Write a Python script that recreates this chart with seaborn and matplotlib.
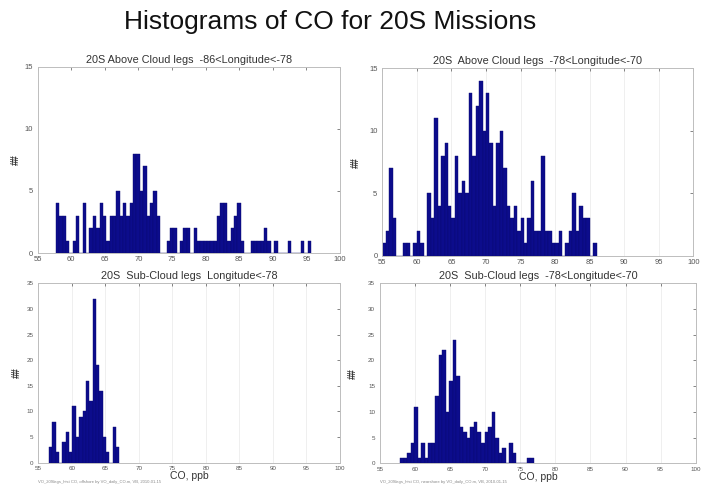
import numpy as np
import pandas as pd
import matplotlib
matplotlib.use("Agg")
import matplotlib.pyplot as plt
import seaborn as sns

sns.set_theme(style="white")
plt.rcParams["font.family"] = ["Liberation Sans", "DejaVu Sans"]

BIN_WIDTH = 0.5

# CO histogram counts per 0.5 ppb bin, with the left edge of the first bin
above_west_start = 57.7
above_west_counts = [4, 3, 3, 1, 0, 1, 3, 0, 4, 0, 2, 3, 2, 4, 3, 1, 3, 3, 5, 3,
                     4, 3, 4, 8, 8, 5, 7, 3, 4, 5, 3, 0, 0, 1, 2, 2, 0, 1, 2, 2,
                     0, 2, 1, 1, 1, 1, 1, 1, 3, 4, 4, 1, 2, 3, 4, 1, 0, 0, 1, 1,
                     1, 1, 2, 1, 0, 1, 0, 0, 0, 1, 0, 0, 0, 1, 0, 1]

above_east_start = 55.0
above_east_counts = [1, 2, 7, 3, 0, 0, 1, 1, 0, 1, 2, 1, 0, 5, 3, 11, 4, 8, 9, 4,
                     3, 8, 5, 6, 5, 13, 8, 12, 14, 10, 13, 9, 4, 9, 10, 7, 4, 3, 4, 2,
                     3, 1, 3, 6, 2, 2, 8, 2, 2, 1, 1, 2, 0, 1, 2, 5, 2, 4, 3, 3,
                     0, 1]

sub_west_start = 56.6
sub_west_counts = [3, 8, 2, 0, 4, 6, 2, 11, 5, 9, 10, 16, 12, 32, 19, 14, 5, 2, 0, 7, 3]

sub_east_start = 57.9
sub_east_counts = [1, 1, 2, 4, 11, 1, 4, 1, 4, 4, 13, 21, 22, 10, 16, 24, 17, 7, 6, 5,
                   7, 8, 6, 4, 6, 7, 10, 5, 2, 3, 0, 4, 2, 0, 0, 0, 1, 1]

panel_titles = [
    "20S Above Cloud legs  -86<Longitude<-78",
    "20S  Above Cloud legs  -78<Longitude<-70",
    "20S  Sub-Cloud legs  Longitude<-78",
    "20S  Sub-Cloud legs  -78<Longitude<-70",
]
x_ticks = [55, 60, 65, 70, 75, 80, 85, 90, 95, 100]
y_ticks_top = [0, 5, 10, 15]
y_ticks_bottom = [0, 5, 10, 15, 20, 25, 30, 35]
footnotes = [
    "VO_20Slegs_hist CO, offshore by VO_daily_CO.m, VB, 2010-01-15",
    "VO_20Slegs_hist CO, nearshore by VO_daily_CO.m, VB, 2010-01-15",
]

BAR = "#0c0c8c"
EDGE = "#0a0a72"

fig = plt.figure(figsize=(7.1, 4.86), dpi=100)
fig.patch.set_facecolor("white")

positions = [
    [0.0531, 0.4794, 0.4258, 0.3833],
    [0.5385, 0.4733, 0.4380, 0.3862],
    [0.0539, 0.0479, 0.4249, 0.3691],
    [0.5352, 0.0467, 0.4446, 0.3704],
]
series = [
    (above_west_start, above_west_counts),
    (above_east_start, above_east_counts),
    (sub_west_start, sub_west_counts),
    (sub_east_start, sub_east_counts),
]

for i, (pos, (start, counts), title) in enumerate(zip(positions, series, panel_titles)):
    ax = fig.add_axes(pos)
    counts = np.asarray(counts, dtype=float)
    edges = start + BIN_WIDTH * np.arange(len(counts) + 1)
    df = pd.DataFrame({"co": edges[:-1] + BIN_WIDTH / 2, "n": counts})
    sns.histplot(data=df, x="co", weights="n", bins=edges.tolist(), ax=ax,
                 color=BAR, edgecolor=EDGE, linewidth=0.3, alpha=1.0)

    top = i < 2
    ax.set_xlim(55, 100)
    ax.set_ylim(0, 15 if top else 35)
    ax.set_xticks(x_ticks)
    ax.set_yticks(y_ticks_top if top else y_ticks_bottom)
    ax.tick_params(axis="both", labelsize=5.5 if top else 4.5, colors="#555555",
                   direction="in", length=2, width=0.5)
    ax.tick_params(axis="x", pad=2.5)
    ax.tick_params(axis="y", pad=3.5)
    ax.tick_params(top=True, right=True)
    for spine in ax.spines.values():
        spine.set_color("#bdbdbd")
        spine.set_linewidth(0.7)
    if i > 0:
        ax.grid(axis="x", color="#ececec", linewidth=0.6)
        ax.set_axisbelow(True)
    ax.set_title(title, fontsize=7.8, color="#333333", pad=3)
    ax.set_ylabel("##", fontsize=7, fontweight="bold", color="#333333")
    ax.yaxis.set_label_coords(-0.055 if i % 2 == 0 else -0.07, 0.5)
    if not top:
        ax.set_xlabel("CO, ppb", fontsize=7.5, color="#333333", labelpad=0)
        left_px = pos[0] * 710
        fig.text(left_px / 710, 1 - 481.5 / 486, footnotes[i - 2],
                 fontsize=3, color="#888888", va="center", ha="left")
    else:
        ax.set_xlabel("")

fig.text(330 / 710, 1 - 22 / 486, "Histograms of CO for 20S Missions",
         fontsize=19, ha="center", va="center", color="#111111")

fig.savefig("out.png", dpi=100)
